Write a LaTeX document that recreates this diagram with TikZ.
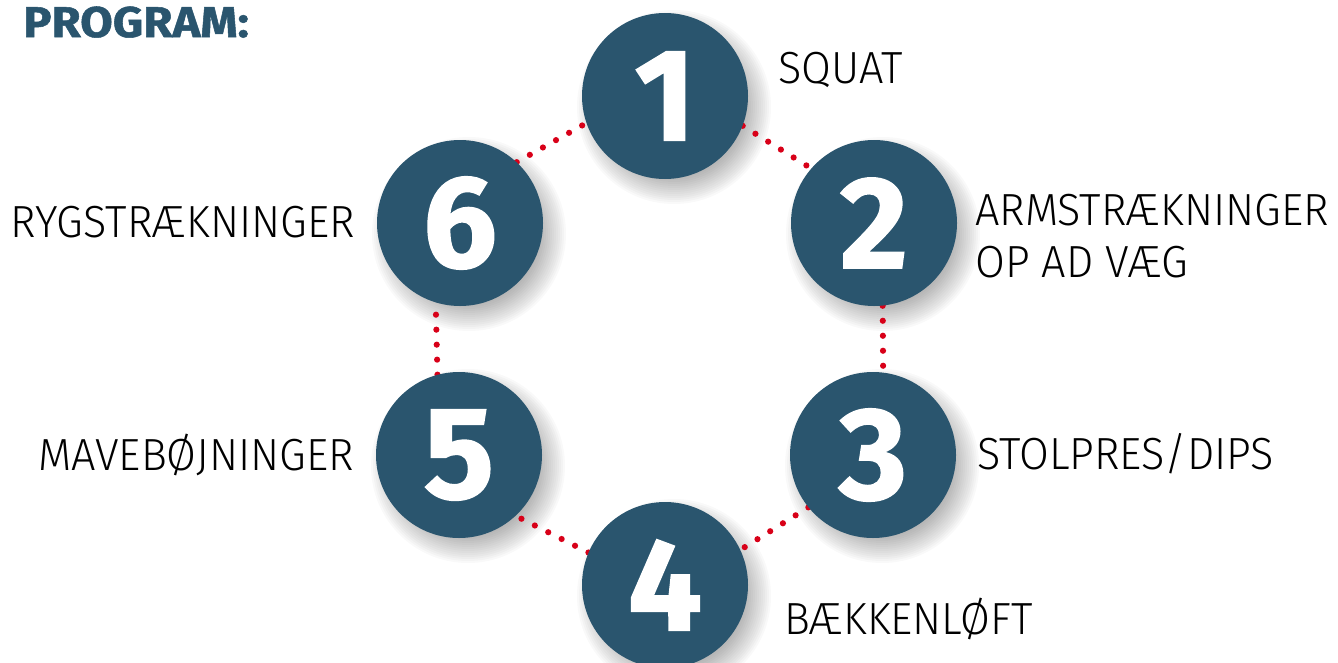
\documentclass[tikz,border=0pt]{standalone}
\usepackage{fontspec}
\setmainfont{Fira Sans}
\newfontfamily\labelfont{Fira Sans Light}[FakeStretch=0.96]
\newfontfamily\headfont{Fira Sans}[FakeBold=1.2]
\newfontfamily\titlefont{Fira Sans}[FakeBold=1.2, FakeStretch=1.1]
\usetikzlibrary{calc}
\definecolor{navy}{RGB}{42,85,110}
\definecolor{dotred}{RGB}{216,0,24}
\pgfdeclarelayer{shadow}
\pgfdeclarelayer{dots}
\pgfsetlayers{shadow,dots,main}
\tikzset{
  numcirc/.style={circle, fill=navy, minimum size=166pt, inner sep=0pt,
    text=white, font=\headfont\bfseries\fontsize{131}{131}\selectfont},
  dotline/.style={dotred, line width=6.2pt, line cap=round, dash pattern=on 0pt off 15pt},
  lbl/.style={inner sep=0pt, text=black, font=\labelfont\fontsize{45}{45}\selectfont},
  title/.style={inner sep=0pt, text=navy, font=\titlefont\bfseries\fontsize{43}{43}\selectfont},
}
\begin{document}
\begin{tikzpicture}[x=1pt, y=-1pt]
\useasboundingbox (0,0) rectangle (1338,662);

% title
\node[title, anchor=base west] (head) at (23,37) {PROGRAM:};

% numbered circles
\node[numcirc] (c1) at (665,96)  {1};
\node[numcirc] (c2) at (874,223) {2};
\node[numcirc] (c3) at (873,455) {3};
\node[numcirc] (c4) at (665,585) {4};
\node[numcirc] (c5) at (459,455) {5};
\node[numcirc] (c6) at (460,223) {6};

% soft shadows under the circles
\begin{pgfonlayer}{shadow}
  \foreach \c in {c1,c2,c3,c4,c5,c6}{
    \foreach \k in {1,...,14}{
      \fill[black, opacity=0.022] ($(\c)+(9,11)$) circle[radius={(99-2*\k)*1pt}];
    }
  }
\end{pgfonlayer}

% red dotted links between neighbouring circles
\begin{pgfonlayer}{dots}
  \draw[dotline] (c6.47.5)  -- (c1.199);
  \draw[dotline] (c1.-21)   -- (c2.139.4);
  \draw[dotline] (c2.-84)   -- (c3.83);
  \draw[dotline] (c3.219.4) -- (c4.25.6);
  \draw[dotline] (c4.157.6) -- (c5.-47);
  \draw[dotline] (c5.105.4) -- (c6.253.2);
\end{pgfonlayer}

% exercise labels
\node[lbl, anchor=base west] (l1)  at (778,83)  {SQUAT};
\node[lbl, anchor=base west] (l2a) at (975,225) {ARMSTRÆKNINGER};
\node[lbl, anchor=base west] (l2b) at (975,277) {OP AD VÆG};
\node[lbl, anchor=base west] (l3)  at (977,469) {STOLPRES/DIPS};
\node[lbl, anchor=base west] (l4)  at (784,634) {BÆKKENLØFT};
\node[lbl, anchor=base east] (l5)  at (354,470) {MAVEBØJNINGER};
\node[lbl, anchor=base east] (l6)  at (355,237) {RYGSTRÆKNINGER};
\end{tikzpicture}
\end{document}
